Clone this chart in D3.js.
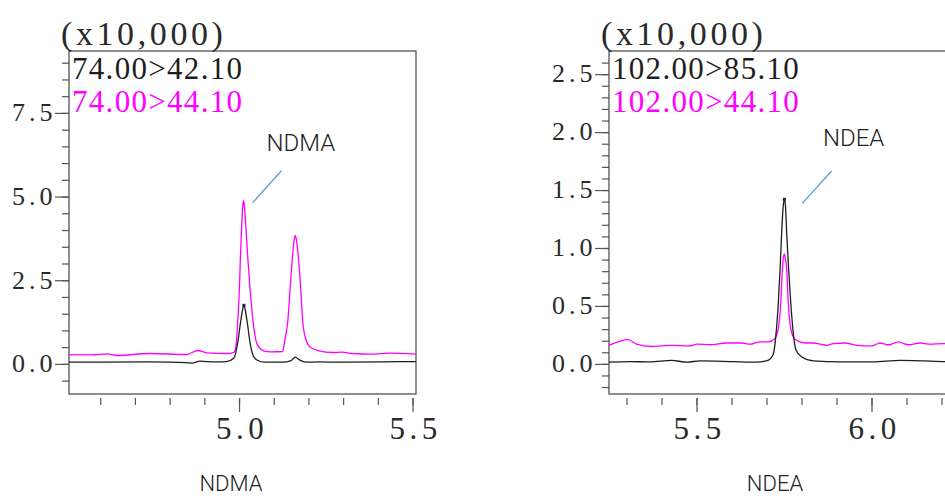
<!DOCTYPE html>
<html>
<head>
<meta charset="utf-8">
<script src="https://cdn.jsdelivr.net/npm/d3@7"></script>
<style>
  html, body { margin: 0; padding: 0; background: #fff; }
  svg { display: block; }
</style>
</head>
<body>
<svg id="chart" width="945" height="498"></svg>
<script>
// NDMA traces [time (min), intensity (x10,000)]
const ndmaBlack = [
  [4.510, 0.05], [4.743, 0.06], [4.849, 0.04], [4.864, 0.02], [4.887, 0.08],
  [4.930, 0.06], [4.963, 0.07], [4.985, 0.17], [4.996, 0.62], [5.004, 1.22],
  [5.009, 1.55], [5.012, 1.70], [5.014, 1.75], [5.016, 1.70], [5.019, 1.55],
  [5.024, 1.22], [5.032, 0.62], [5.042, 0.22], [5.054, 0.10], [5.073, 0.05],
  [5.126, 0.05], [5.150, 0.10], [5.162, 0.20], [5.174, 0.12], [5.193, 0.05],
  [5.231, 0.06], [5.297, 0.05], [5.412, 0.06], [5.510, 0.07]
];
const ndmaMagenta = [
  [4.510, 0.27], [4.579, 0.27], [4.619, 0.30], [4.648, 0.25], [4.743, 0.31],
  [4.849, 0.28], [4.881, 0.40], [4.907, 0.33], [4.967, 0.31], [4.978, 0.32],
  [4.987, 0.36], [4.992, 0.62], [4.996, 1.22], [5.001, 2.21], [5.004, 3.20],
  [5.008, 4.21], [5.011, 4.75], [5.013, 4.88], [5.015, 4.75], [5.019, 4.21],
  [5.025, 3.20], [5.032, 2.21], [5.041, 1.22], [5.051, 0.62], [5.071, 0.39],
  [5.092, 0.36], [5.126, 0.37], [5.129, 0.52], [5.134, 0.82], [5.140, 1.22],
  [5.147, 2.21], [5.154, 3.20], [5.159, 3.72], [5.162, 3.84], [5.165, 3.72],
  [5.171, 3.20], [5.178, 2.21], [5.184, 1.22], [5.193, 0.72], [5.203, 0.52],
  [5.208, 0.48], [5.231, 0.39], [5.269, 0.34], [5.297, 0.35], [5.326, 0.31],
  [5.384, 0.29], [5.432, 0.32], [5.510, 0.29]
];

// NDEA traces
const ndeaBlack = [
  [5.250, 0.015], [5.310, 0.02], [5.367, 0.017], [5.429, 0.03], [5.472, 0.015],
  [5.510, 0.026], [5.604, 0.02], [5.672, 0.015], [5.704, 0.03], [5.719, 0.08],
  [5.727, 0.25], [5.734, 0.54], [5.739, 0.83], [5.743, 1.11], [5.748, 1.37],
  [5.751, 1.42], [5.754, 1.37], [5.758, 1.11], [5.763, 0.83], [5.769, 0.54],
  [5.777, 0.25], [5.784, 0.12], [5.801, 0.06], [5.834, 0.026], [5.910, 0.017],
  [6.005, 0.017], [6.081, 0.03], [6.148, 0.026], [6.205, 0.02], [6.260, 0.02]
];
const ndeaMagenta = [
  [5.250, 0.16], [5.305, 0.21], [5.329, 0.17], [5.372, 0.15], [5.424, 0.16],
  [5.481, 0.155], [5.501, 0.17], [5.539, 0.165], [5.586, 0.18], [5.629, 0.18],
  [5.653, 0.17], [5.681, 0.19], [5.705, 0.19], [5.724, 0.22], [5.734, 0.31],
  [5.741, 0.54], [5.745, 0.80], [5.748, 0.91], [5.751, 0.95], [5.754, 0.91],
  [5.758, 0.80], [5.762, 0.54], [5.769, 0.31], [5.779, 0.22], [5.796, 0.19],
  [5.815, 0.18], [5.834, 0.18], [5.872, 0.16], [5.891, 0.175], [5.924, 0.18],
  [5.958, 0.16], [6.001, 0.155], [6.024, 0.18], [6.048, 0.165], [6.077, 0.19],
  [6.105, 0.165], [6.139, 0.18], [6.167, 0.17], [6.205, 0.175], [6.260, 0.175]
];

// axes
const ndmaXMajor = [5.0, 5.5];
const ndmaYMajor = [0, 2.5, 5.0, 7.5];
const ndeaXMajor = [5.5, 6.0];
const ndeaYMajor = [0, 0.5, 1.0, 1.5, 2.0, 2.5];

// transitions shown in each panel
const ndmaTransitions = ["74.00>42.10", "74.00>44.10"];
const ndeaTransitions = ["102.00>85.10", "102.00>44.10"];
const compoundNames = ["NDMA", "NDEA"];
const scaleLabel = "(x10,000)";

const serif = "'Liberation Serif', 'DejaVu Serif', serif";
const sans = "Roboto, 'Noto Sans', sans-serif";
const traceColors = ["#1e1e1e", "#ff00ff"];

const svg = d3.select("#chart");
const plotTop = 51, plotBottom = 394;

const panels = [
  {
    name: compoundNames[0], left: 69, right: 416,
    xDomain: [4.51, 5.51], yDomain: [-0.9, 9.35],
    xMinor: d3.range(4.6, 5.51, 0.1), yMinor: d3.range(-0.5, 9.01, 0.5),
    xMajor: ndmaXMajor, yMajor: ndmaYMajor,
    traces: [ndmaBlack, ndmaMagenta], labels: ndmaTransitions,
    note: { line: [[5.039, 4.81], [5.122, 5.77]], text: [5.178, 6.36] },
    bottomX: 231
  },
  {
    name: compoundNames[1], left: 609, right: 959,
    xDomain: [5.25, 6.25], yDomain: [-0.26, 2.70],
    xMinor: d3.range(5.3, 6.26, 0.1), yMinor: d3.range(-0.2, 2.61, 0.1),
    xMajor: ndeaXMajor, yMajor: ndeaYMajor,
    traces: [ndeaBlack, ndeaMagenta], labels: ndeaTransitions,
    note: { line: [[5.802, 1.385], [5.886, 1.664]], text: [5.949, 1.88] },
    bottomX: 775
  }
];

panels.forEach((p, i) => {
  const x = d3.scaleLinear().domain(p.xDomain).range([p.left, p.right]);
  const y = d3.scaleLinear().domain(p.yDomain).range([plotBottom, plotTop]);
  const g = svg.append("g");

  g.append("clipPath").attr("id", "clip" + i)
    .append("rect")
    .attr("x", p.left).attr("y", plotTop)
    .attr("width", p.right - p.left).attr("height", plotBottom - plotTop);

  // y axis: minor then major ticks
  const yMinorAxis = g.append("g").attr("transform", `translate(${p.left},0)`)
    .call(d3.axisLeft(y).tickValues(p.yMinor).tickSize(7).tickFormat(""));
  const yMajorAxis = g.append("g").attr("transform", `translate(${p.left},0)`)
    .call(d3.axisLeft(y).tickValues(p.yMajor).tickSize(14).tickFormat(d3.format(".1f")));
  [yMinorAxis, yMajorAxis].forEach(a => {
    a.select(".domain").remove();
    a.selectAll("line").attr("stroke", "#555").attr("stroke-width", 1.2);
  });
  yMajorAxis.selectAll("text")
    .attr("x", -12.5).attr("dy", "0.3em")
    .style("font-family", serif).style("font-size", "26px")
    .style("letter-spacing", "4px").attr("fill", "#2a2a2a");

  // x axis below the frame
  const xMinorAxis = g.append("g").attr("transform", `translate(0,${plotBottom + 4})`)
    .call(d3.axisBottom(x).tickValues(p.xMinor).tickSize(7).tickFormat(""));
  const xMajorAxis = g.append("g").attr("transform", `translate(0,${plotBottom + 4})`)
    .call(d3.axisBottom(x).tickValues(p.xMajor).tickSize(14).tickFormat(d3.format(".1f")));
  [xMinorAxis, xMajorAxis].forEach(a => {
    a.select(".domain").remove();
    a.selectAll("line").attr("stroke", "#555").attr("stroke-width", 1.2);
  });
  xMajorAxis.selectAll("text")
    .attr("y", 41).attr("dy", 0).attr("dx", 2.5)
    .style("font-family", serif).style("font-size", "31px")
    .style("letter-spacing", "4.5px").attr("fill", "#2a2a2a");

  // frame
  g.append("rect")
    .attr("x", p.left).attr("y", plotTop)
    .attr("width", p.right - p.left).attr("height", plotBottom - plotTop)
    .attr("fill", "none").attr("stroke", "#555").attr("stroke-width", 1.3);

  // traces (magenta under black)
  const line = d3.line().x(d => x(d[0])).y(d => y(d[1])).curve(d3.curveMonotoneX);
  const plot = g.append("g").attr("clip-path", `url(#clip${i})`);
  [1, 0].forEach(k => {
    plot.append("path")
      .datum(p.traces[k])
      .attr("d", line)
      .attr("fill", "none")
      .attr("stroke", traceColors[k])
      .attr("stroke-width", 1.3);
  });

  // peak top marker on the quantifier trace
  const apex = d3.greatest(p.traces[0], d => d[1]);
  plot.append("rect")
    .attr("x", x(apex[0]) - 1.5).attr("y", y(apex[1]) - 1.5)
    .attr("width", 3).attr("height", 3)
    .attr("fill", "#1c1c50");

  // annotation
  g.append("line")
    .attr("x1", x(p.note.line[0][0])).attr("y1", y(p.note.line[0][1]))
    .attr("x2", x(p.note.line[1][0])).attr("y2", y(p.note.line[1][1]))
    .attr("stroke", "#5b9bd5").attr("stroke-width", 1.3);
  g.append("text")
    .attr("x", x(p.note.text[0])).attr("y", y(p.note.text[1]))
    .attr("text-anchor", "middle")
    .style("font-family", sans).style("font-size", "24px").style("font-weight", 300)
    .attr("fill", "#222")
    .text(p.name);

  // scale factor and transition labels
  g.append("text")
    .attr("x", p.left - 8).attr("y", 45)
    .style("font-family", serif).style("font-size", "34px")
    .style("letter-spacing", "3.6px").attr("fill", "#2a2a2a")
    .text(scaleLabel);
  p.labels.forEach((t, k) => {
    g.append("text")
      .attr("x", p.left + 3).attr("y", 79 + k * 33)
      .style("font-family", serif).style("font-size", "31px")
      .style("letter-spacing", "1.3px").attr("fill", traceColors[k])
      .text(t);
  });

  // compound name under the panel
  g.append("text")
    .attr("x", p.bottomX).attr("y", 491)
    .attr("text-anchor", "middle")
    .style("font-family", sans).style("font-size", "22px").style("font-weight", 300)
    .attr("fill", "#222")
    .text(p.name);
});
</script>
</body>
</html>
